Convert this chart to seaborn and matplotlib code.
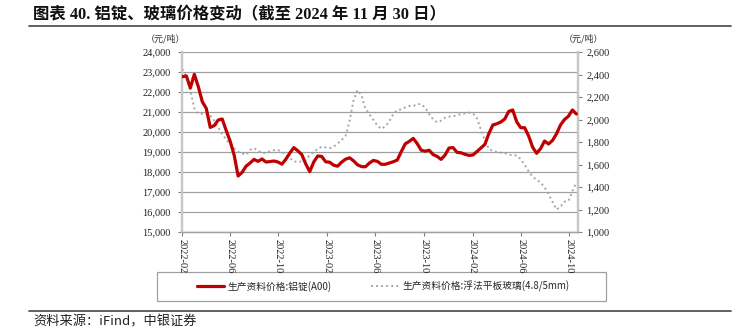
import numpy as np
import pandas as pd
import matplotlib
matplotlib.use("Agg")
import matplotlib.pyplot as plt
import matplotlib.dates as mdates
from matplotlib.ticker import FuncFormatter, FixedLocator
from matplotlib.patches import Rectangle
from matplotlib.lines import Line2D
import seaborn as sns

# ---------------- data ----------------
title = "图表 40. 铝锭、玻璃价格变动（截至 2024 年 11 月 30 日）"
source = "资料来源：iFind，中银证券"
unit_label = "（元/吨）"
name_al = "生产资料价格:铝锭(A00)"
name_glass = "生产资料价格:浮法平板玻璃(4.8/5mm)"

dates = pd.date_range("2022-02-02", periods=100, freq="10D")

aluminum = [
    22765, 22800, 22200, 22885, 22265, 21515, 21180, 20230, 20320, 20600,
    20650, 20080, 19540, 18850, 17800, 17980, 18290, 18450, 18630, 18530,
    18650, 18500, 18520, 18550, 18500, 18390, 18640, 18950, 19220, 19060,
    18870, 18400, 18020, 18500, 18800, 18780, 18510, 18490, 18340, 18290,
    18490, 18640, 18710, 18560, 18360, 18270, 18265, 18450, 18580, 18530,
    18385, 18385, 18450, 18515, 18600, 19020, 19410, 19530, 19680, 19420,
    19090, 19040, 19090, 18870, 18780, 18630, 18850, 19200, 19220, 18985,
    18960, 18885, 18830, 18850, 19020, 19200, 19380, 19920, 20350, 20410,
    20500, 20650, 21030, 21100, 20510, 20215, 20215, 19800, 19240, 18935,
    19170, 19550, 19400, 19580, 19910, 20350, 20620, 20790, 21100, 20900,
]

glass = [
    2449, 2380, 2255, 2100, 2050, 2051, 2055, 2036, 1990, 1930,
    1869, 1822, 1778, 1743, 1712, 1698, 1687, 1730, 1745, 1725,
    1700, 1705, 1717, 1727, 1729, 1712, 1687, 1657, 1628, 1622,
    1628, 1640, 1685, 1712, 1740, 1758, 1752, 1745, 1758, 1786,
    1818, 1855, 1985, 2170, 2262, 2215, 2095, 2045, 1996, 1947,
    1916, 1940, 1985, 2048, 2084, 2090, 2108, 2120, 2120, 2136,
    2138, 2105, 2050, 2000, 1975, 1990, 2016, 2025, 2028, 2037,
    2050, 2055, 2061, 2055, 2012, 1910, 1815, 1740, 1720, 1711,
    1705, 1703, 1686, 1684, 1680, 1648, 1597, 1540, 1490, 1465,
    1440, 1396, 1340, 1267, 1200, 1225, 1270, 1275, 1365, 1440,
]

x_tick_dates = ["2022-02-01", "2022-06-01", "2022-10-01", "2023-02-01",
                "2023-06-01", "2023-10-01", "2024-02-01", "2024-06-01",
                "2024-10-01"]
x_limits = ["2022-02-01", "2024-10-23"]
left_ticks = [15000, 16000, 17000, 18000, 19000, 20000, 21000, 22000, 23000, 24000]
right_ticks = [1000, 1200, 1400, 1600, 1800, 2000, 2200, 2400, 2600]

df = pd.DataFrame({"date": dates, "aluminum": aluminum, "glass": glass})

# ---------------- style ----------------
sns.set_theme(style="white")
plt.rcParams["font.family"] = ["Liberation Serif", "Noto Sans CJK SC"]
plt.rcParams["axes.unicode_minus"] = False

RED = "#C00000"
GRAY_DOT = "#A6A6A6"
GRID = "#A0A0A0"
SPINE = "#C8C8C8"
CJK = ["Noto Sans CJK SC", "Liberation Serif"]
SERIF = ["Liberation Serif", "Noto Sans CJK SC"]

fig = plt.figure(figsize=(7.46, 3.34), dpi=100)
W, H = 746, 334

def fx(px):
    return px / W

def fy(py):
    return 1 - py / H

ax = fig.add_axes([fx(182), fy(232), fx(578) - fx(182), fy(52) - fy(232)])
ax2 = ax.twinx()

sns.lineplot(data=df, x="date", y="aluminum", ax=ax, color=RED, linewidth=2.3,
             legend=False, zorder=5)
sns.lineplot(data=df, x="date", y="glass", ax=ax2, color=GRAY_DOT, linewidth=1.4,
             linestyle=(0, (1, 1.6)), legend=False, zorder=4)
ax.set_zorder(ax2.get_zorder() + 1)
ax.patch.set_visible(False)

# axes ranges / ticks
ax.set_xlim(pd.Timestamp(x_limits[0]), pd.Timestamp(x_limits[1]))
ax.set_ylim(left_ticks[0], left_ticks[-1])
ax2.set_ylim(right_ticks[0], right_ticks[-1])
ax.xaxis.set_major_locator(FixedLocator(mdates.date2num(pd.to_datetime(x_tick_dates))))
ax.xaxis.set_major_formatter(mdates.DateFormatter("%Y-%m"))
ax.set_yticks(left_ticks)
ax2.set_yticks(right_ticks)
fmt = FuncFormatter(lambda v, p: f"{int(v):,}")
ax.yaxis.set_major_formatter(fmt)
ax2.yaxis.set_major_formatter(fmt)

ax.set_xlabel("")
ax.set_ylabel("")
ax2.set_ylabel("")

ax.grid(axis="y", color=GRID, linewidth=0.9)
ax.grid(axis="x", visible=False)
ax2.grid(False)

for a in (ax, ax2):
    a.spines["top"].set_visible(False)
    a.spines["left"].set_color(SPINE)
    a.spines["left"].set_linewidth(1.6)
    a.spines["right"].set_color(SPINE)
    a.spines["right"].set_linewidth(1.6)
    a.spines["bottom"].set_color(GRID)
    a.spines["bottom"].set_linewidth(0.9)

ax.tick_params(axis="y", which="major", direction="out", length=3, width=0.8,
               color="#808080", pad=5, labelsize=7.5, labelcolor="#222222", left=True)
ax.tick_params(axis="x", which="major", direction="out", length=3, width=0.8,
               color="#808080", pad=2, labelsize=7.5, labelcolor="#222222",
               bottom=True, labelrotation=-90)
ax2.tick_params(axis="y", which="major", direction="out", length=3, width=0.8,
                color="#808080", pad=3, labelsize=7.5, labelcolor="#222222", right=True)
for lab in ax.get_xticklabels():
    lab.set_horizontalalignment("center")
    lab.set_verticalalignment("top")

# units
fig.text(fx(165), fy(39), unit_label, ha="center", va="center", fontsize=6.5,
         family=CJK, color="#333333")
fig.text(fx(583), fy(39), unit_label, ha="center", va="center", fontsize=6.5,
         family=CJK, color="#333333")

# title and rules
fig.text(fx(33), fy(15), title, ha="left", va="center", fontsize=11.8,
         fontweight="bold", family=SERIF, color="#111111")
fig.add_artist(Line2D([fx(29), fx(731)], [fy(26), fy(26)], color="#555555", linewidth=1.3))
fig.add_artist(Line2D([fx(29), fx(731)], [fy(311), fy(311)], color="#555555", linewidth=1.3))

# source
fig.text(fx(33), fy(322), source, ha="left", va="center", fontsize=9.5,
         style="italic", family=CJK, color="#222222")

# legend box + legend
fig.add_artist(Rectangle((fx(157), fy(301)), fx(606) - fx(157), fy(272) - fy(301),
                         fill=False, edgecolor="#A0A0A0", linewidth=0.9))
handles = [ax.get_lines()[0], ax2.get_lines()[0]]
leg = fig.legend(handles, [name_al, name_glass], loc="center",
                 bbox_to_anchor=(fx(383), fy(286.5)), ncol=2, frameon=False,
                 prop={"family": CJK, "size": 7}, handlelength=2.8,
                 handletextpad=0.4, columnspacing=4.0)

fig.savefig("out.png", dpi=100)
